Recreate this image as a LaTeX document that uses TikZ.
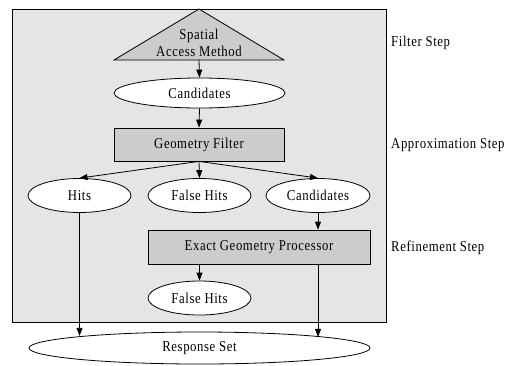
\documentclass[tikz,border=0pt]{standalone}
\usepackage{fontspec}
\setmainfont{Liberation Serif}[FakeStretch=0.85,LetterSpace=4]
\usetikzlibrary{shapes.geometric,arrows.meta}
\definecolor{boxbg}{RGB}{229,229,229}
\definecolor{shapebg}{RGB}{204,204,204}
\tikzset{
  every node/.style={font=\fontsize{15}{17}\selectfont},
  oval/.style={ellipse,draw,fill=white,line width=0.8pt,inner sep=0pt},
  procbox/.style={rectangle,draw,fill=shapebg,line width=0.8pt,inner sep=0pt},
  arr/.style={line width=0.8pt,-{Triangle[length=8pt,width=6pt]}},
  steplabel/.style={anchor=west,inner sep=0pt},
}
\begin{document}
\begin{tikzpicture}[x=1pt,y=-1pt]
\useasboundingbox (0,0) rectangle (508,365);
% outer grey frame
\draw[fill=boxbg,line width=0.8pt] (12,9) rectangle (386,322);
% triangle
\coordinate (apex) at (199,9);
\coordinate (bl) at (114,60);
\coordinate (br) at (284,60);
\coordinate (sambase) at (199,60);
\draw[fill=shapebg,line width=0.8pt] (apex) -- (br) -- (bl) -- cycle;
\node[align=center,inner sep=0pt] (sam) at (199,43) {Spatial\\Access Method};
% nodes
\node[oval,minimum width=171pt,minimum height=30pt] (cand1) at (199.5,93) {Candidates};
\node[procbox,minimum width=170pt,minimum height=33pt] (gf) at (199,144.5) {Geometry Filter};
\node[oval,minimum width=103pt,minimum height=34pt] (hits) at (79.5,195.5) {Hits};
\node[oval,minimum width=103pt,minimum height=34pt] (fh1) at (199.5,195.5) {False Hits};
\node[oval,minimum width=104pt,minimum height=34pt] (cand2) at (318,195.5) {Candidates};
\node[procbox,minimum width=222pt,minimum height=34pt] (egp) at (259,247) {Exact Geometry Processor};
\node[oval,minimum width=103pt,minimum height=34pt] (fh2) at (199.5,298) {False Hits};
\node[oval,minimum width=341pt,minimum height=32pt] (rs) at (199.5,348) {Response Set};
% labels
\node[steplabel] (l1) at (391,43) {Filter Step};
\node[steplabel] (l2) at (391,145) {Approximation Step};
\node[steplabel] (l3) at (391,248) {Refinement Step};
% connectors
\draw[arr] (sambase) -- (cand1.north);
\draw[arr] (cand1.south) -- (gf.north);
\draw[arr] (gf.south) -- (hits.north);
\draw[arr] (gf.south) -- (fh1.north);
\draw[arr] (gf.south) -- (cand2.north);
\draw[arr] (cand2.south) -- (cand2.south |- egp.north);
\draw[arr] (fh2.north |- egp.south) -- (fh2.north);
\draw[arr] (hits.south) -- (hits.south |- rs.174.5);
\draw[arr] (cand2.south |- egp.south) -- (cand2.south |- rs.5.5);
\end{tikzpicture}
\end{document}
